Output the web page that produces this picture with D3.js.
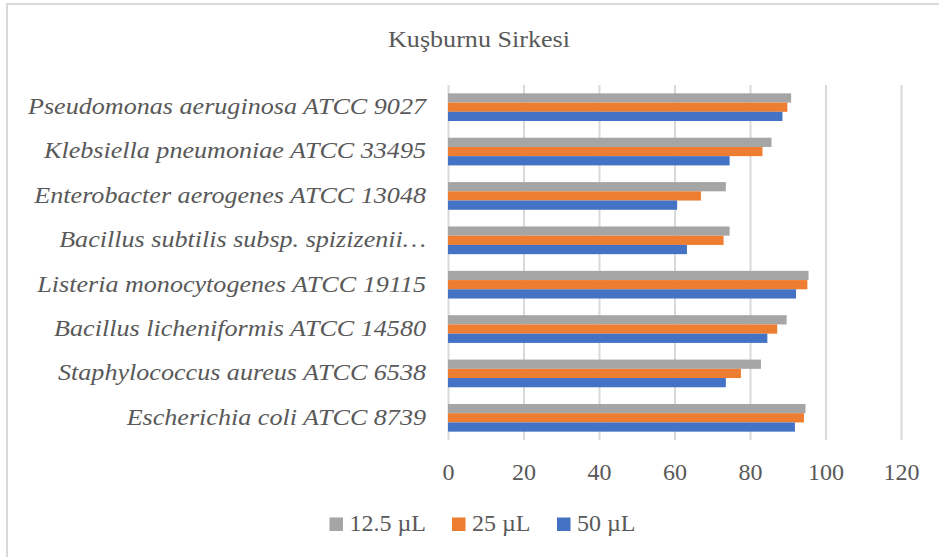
<!DOCTYPE html>
<html>
<head>
<meta charset="utf-8">
<script src="https://cdn.jsdelivr.net/npm/d3@7"></script>
<style>
  body { margin: 0; background: #fff; }
  text { font-family: "Liberation Serif", "Times New Roman", serif; fill: #595959; }
</style>
</head>
<body>
<script>
// categories, top to bottom as shown
const categories = [
    'Pseudomonas aeruginosa ATCC 9027',
    'Klebsiella pneumoniae ATCC 33495',
    'Enterobacter aerogenes ATCC 13048',
    'Bacillus subtilis subsp. spizizenii…',
    'Listeria monocytogenes ATCC 19115',
    'Bacillus licheniformis ATCC 14580',
    'Staphylococcus aureus ATCC 6538',
    'Escherichia coli ATCC 8739'
];
const seriesNames = ['12.5 µL', '25 µL', '50 µL'];
const seriesColors = ['#a5a5a5', '#ed7d31', '#4472c4'];

const v125 = [90.9, 85.7, 73.6, 74.6, 95.5, 89.7, 82.9, 94.7];
const v25  = [89.9, 83.3, 67.0, 73.0, 95.2, 87.2, 77.6, 94.3];
const v50  = [88.6, 74.6, 60.7, 63.3, 92.2, 84.6, 73.6, 91.9];
const xTicks = [0, 20, 40, 60, 80, 100, 120];

const seriesValues = [v125, v25, v50];

const W = 939, H = 557;
const plot = { left: 448, right: 901, top: 85, bottom: 440 };
const stretch = 1.135; // text in the original is a bit wider than Liberation Serif

const svg = d3.select('body').append('svg')
    .attr('width', W)
    .attr('height', H);

// chart frame
svg.append('rect')
    .attr('x', 7).attr('y', 4)
    .attr('width', W + 10).attr('height', H + 10)
    .attr('fill', '#fff')
    .attr('stroke', '#d9d9d9')
    .attr('stroke-width', 2);

svg.append('text')
    .attr('transform', `translate(479,47) scale(${stretch},1)`)
    .attr('text-anchor', 'middle')
    .style('font-size', '23px')
    .text('Kuşburnu Sirkesi');

const x = d3.scaleLinear().domain([0, 120]).range([plot.left, plot.right]);
const y = d3.scaleBand().domain(categories).range([plot.top, plot.bottom])
    .paddingInner(0.376).paddingOuter(0.188);
const ySub = d3.scaleBand().domain(seriesNames).range([0, y.bandwidth()]);

// gridlines
const grid = svg.append('g')
    .attr('transform', `translate(0,${plot.bottom})`)
    .call(d3.axisBottom(x).tickValues(xTicks).tickSize(-(plot.bottom - plot.top)).tickFormat(''));
grid.select('.domain').remove();
grid.selectAll('line').attr('stroke', '#d9d9d9').attr('stroke-width', 2);

// bars
const groups = svg.append('g').selectAll('g')
    .data(categories)
    .join('g')
    .attr('transform', d => `translate(0,${y(d)})`);

groups.selectAll('rect')
    .data((d, i) => seriesNames.map((s, j) => ({ s, color: seriesColors[j], v: seriesValues[j][i] })))
    .join('rect')
    .attr('x', x(0))
    .attr('y', d => ySub(d.s))
    .attr('width', d => x(d.v) - x(0))
    .attr('height', ySub.bandwidth())
    .attr('fill', d => d.color);

// x tick labels
const xAxis = svg.append('g')
    .attr('transform', `translate(0,${plot.bottom})`)
    .call(d3.axisBottom(x).tickValues(xTicks).tickSize(0).tickPadding(23));
xAxis.select('.domain').remove();
xAxis.selectAll('text')
    .attr('fill', '#595959')
    .style('font-family', '"Liberation Serif", serif')
    .style('font-size', '24px');

// category labels
const yAxis = svg.append('g')
    .attr('transform', `translate(${plot.left},0)`)
    .call(d3.axisLeft(y).tickSize(0));
yAxis.select('.domain').remove();
yAxis.selectAll('text')
    .attr('x', -22 / stretch)
    .attr('dy', '0.3em')
    .attr('transform', `scale(${stretch},1)`)
    .attr('fill', '#595959')
    .style('font-family', '"Liberation Serif", serif')
    .style('font-style', 'italic')
    .style('font-size', '23px');

// legend
const legendX = [329.5, 452, 557];
const legend = svg.append('g').selectAll('g')
    .data(seriesNames)
    .join('g')
    .attr('transform', (d, i) => `translate(${legendX[i]},531)`);
legend.append('rect')
    .attr('x', 0).attr('y', -13.5)
    .attr('width', 13.5).attr('height', 13.5)
    .attr('fill', (d, i) => seriesColors[i]);
legend.append('text')
    .attr('x', 20).attr('y', 0)
    .style('font-size', '24px')
    .text(d => d);
</script>
</body>
</html>
